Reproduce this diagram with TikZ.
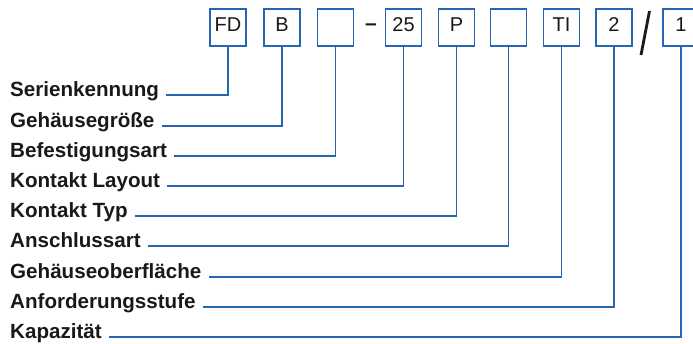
\documentclass[tikz,border=0pt]{standalone}
\usepackage{fontspec}
\setmainfont{Liberation Sans}
\definecolor{lineblue}{RGB}{38,102,178}
\definecolor{ink}{RGB}{25,25,25}
\begin{document}
\begin{tikzpicture}[x=1pt,y=-1pt,
  codebox/.style={draw=lineblue, line width=1.4pt, minimum width=36pt,
    minimum height=37pt, inner sep=0pt, text=ink,
    font=\fontsize{20}{20}\selectfont, text height=14pt, text depth=5pt},
  field/.style={anchor=base west, inner sep=0pt, text=ink,
    font=\fontsize{20.6}{21}\selectfont\bfseries},
  leader/.style={draw=lineblue, line width=1.9pt}]
\useasboundingbox (0,0) rectangle (693,344);

% order code boxes
\node[codebox] (fd)  at (228,27.5)   {FD};
\node[codebox] (b)   at (282,27.5)   {B};
\node[codebox] (mnt) at (335.5,27.5) {};
\node[inner sep=0pt, text=ink, font=\fontsize{21}{21}\selectfont\bfseries] (dash) at (371,27) {–};
\node[codebox] (lay) at (403.5,27.5) {25};
\node[codebox] (p)   at (456.5,27.5) {P};
\node[codebox] (trm) at (508.5,27.5) {};
\node[codebox] (ti)  at (561.5,27.5) {TI};
\node[codebox] (two) at (614,27.5)   {2};
\draw[ink, line width=2.8pt] (649.5,11) -- (641,55);
\node[codebox] (one) at (681,27.5)   {1};

% field names
\node[field] (l1) at (10,97.0)  {Serienkennung};
\node[field] (l2) at (10,127.2) {Gehäusegröße};
\node[field] (l3) at (10,157.4) {Befestigungsart};
\node[field] (l4) at (10,187.6) {Kontakt Layout};
\node[field] (l5) at (10,217.8) {Kontakt Typ};
\node[field] (l6) at (10,248.0) {Anschlussart};
\node[field] (l7) at (10,278.2) {Gehäuseoberfläche};
\node[field] (l8) at (10,308.4) {Anforderungsstufe};
\node[field] (l9) at (10,338.6) {Kapazität};

% leaders from each box to its field name
\tikzset{lend/.style={xshift=7pt,yshift=1.6pt}}
\draw[leader] (fd.south)  |- ([lend]l1.base east);
\draw[leader] (b.south)   |- ([lend]l2.base east);
\draw[leader] (mnt.south) |- ([lend]l3.base east);
\draw[leader] (lay.south) |- ([lend]l4.base east);
\draw[leader] (p.south)   |- ([lend]l5.base east);
\draw[leader] (trm.south) |- ([lend]l6.base east);
\draw[leader] (ti.south)  |- ([lend]l7.base east);
\draw[leader] (two.south) |- ([lend]l8.base east);
\draw[leader] (one.south) |- ([lend]l9.base east);
\end{tikzpicture}
\end{document}
